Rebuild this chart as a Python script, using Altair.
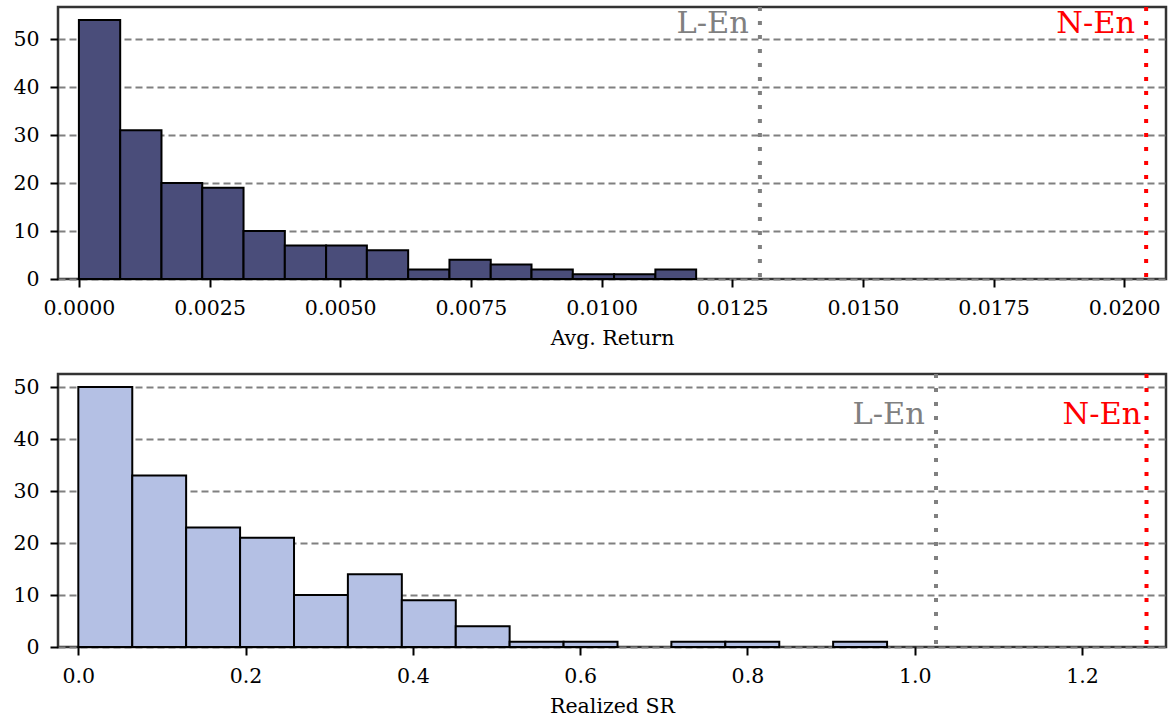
import altair as alt
import pandas as pd

FONT = "DejaVu Serif"

# Histogram of average returns (15 equal-width bins)
ret_edges = [0.0, 0.00079, 0.00158, 0.00236, 0.00315, 0.00394, 0.00473, 0.00551,
             0.00630, 0.00709, 0.00788, 0.00866, 0.00945, 0.01024, 0.01103, 0.01181]
ret_counts = [54, 31, 20, 19, 10, 7, 7, 6, 2, 4, 3, 2, 1, 1, 2]
ret_lines = [0.01303, 0.02042]          # L-En, N-En

# Histogram of realized Sharpe ratios (15 equal-width bins)
sr_edges = [0.0, 0.0645, 0.1289, 0.1934, 0.2579, 0.3223, 0.3868, 0.4513,
            0.5157, 0.5802, 0.6447, 0.7091, 0.7736, 0.8381, 0.9025, 0.9670]
sr_counts = [50, 33, 23, 21, 10, 14, 9, 4, 1, 1, 0, 1, 1, 0, 1]
sr_lines = [1.0255, 1.2772]             # L-En, N-En

line_names = ["L-En", "N-En"]
line_colors = ["#808080", "#ff0000"]
y_ticks = [0, 10, 20, 30, 40, 50]


def panel(edges, counts, fill, x_title, x_domain, x_ticks, x_fmt,
          y_max, lines, label_y, dxs, width, height):
    bins = pd.DataFrame({"lo": edges[:-1], "hi": edges[1:], "count": counts})
    bins = bins[bins["count"] > 0]
    refs = pd.DataFrame({"x": lines, "name": line_names, "color": line_colors,
                         "ly": [label_y, label_y]})

    xscale = alt.Scale(domain=x_domain, nice=False, zero=False)
    yscale = alt.Scale(domain=[0, y_max], nice=False, zero=False)
    xaxis = alt.Axis(values=x_ticks, format=x_fmt, grid=False, labelFlush=False,
                     labelFont=FONT, titleFont=FONT)
    yaxis = alt.Axis(values=y_ticks, grid=True, labelFlush=False,
                     labelFont=FONT, titleFont=FONT)

    bars = alt.Chart(bins).mark_rect(fill=fill, stroke="black", strokeWidth=2).encode(
        x=alt.X("lo:Q", scale=xscale, axis=xaxis, title=x_title),
        x2="hi:Q",
        y=alt.Y("count:Q", scale=yscale, axis=yaxis, title=None),
        y2=alt.Y2(datum=0),
    )
    rules = alt.Chart(refs).mark_rule(strokeDash=[4, 10], strokeWidth=4).encode(
        x=alt.X("x:Q", title=x_title),
        color=alt.Color("color:N", scale=None),
    )
    texts = []
    for i in range(len(line_names)):
        texts.append(
            alt.Chart(refs.iloc[[i]]).mark_text(
                align="right", baseline="alphabetic", dx=dxs[i],
                font=FONT, fontSize=30.5,
            ).encode(
                x=alt.X("x:Q", title=x_title),
                y=alt.Y("ly:Q", title=None),
                text="name:N",
                color=alt.Color("color:N", scale=None),
            )
        )
    return alt.layer(bars, rules, *texts).properties(width=width, height=height)


top = panel(ret_edges, ret_counts, "#4a4d7a", "Avg. Return",
            [-0.0004, 0.0208],
            [0.0, 0.0025, 0.005, 0.0075, 0.01, 0.0125, 0.015, 0.0175, 0.02], ".4f",
            56.7, ret_lines, 51.25, [-11, -11], 1108, 272)
bottom = panel(sr_edges, sr_counts, "#b4c0e4", "Realized SR",
               [-0.0243, 1.3005],
               [0.0, 0.2, 0.4, 0.6, 0.8, 1.0, 1.2], ".1f",
               52.5, sr_lines, 42.9, [-11, -5], 1108, 273)

chart = alt.vconcat(top, bottom, spacing=19).properties(
    padding={"left": 11, "top": 3, "right": 0, "bottom": 0},
    background="white",
).configure(
    font=FONT,
).configure_view(
    stroke="#333333", strokeWidth=2.5,
).configure_axis(
    labelFont=FONT, labelFontSize=20.5, labelColor="black",
    titleFont=FONT, titleFontSize=20.5, titleColor="black", titleFontWeight="normal",
    tickColor="black", tickWidth=2, tickSize=8, labelPadding=11, titlePadding=10,
    domain=False, gridColor="#808080", gridDash=[7, 4], gridWidth=2,
)

chart.save("out.html", embed_options={"renderer": "svg", "actions": False})
